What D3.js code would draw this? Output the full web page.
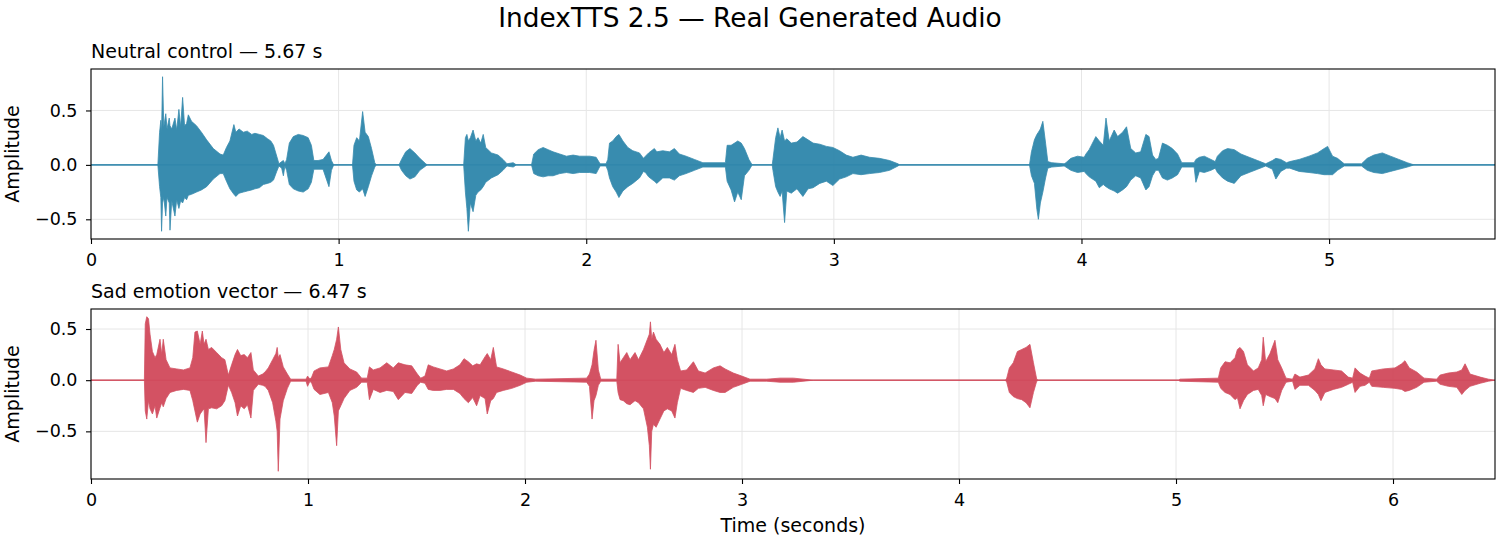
<!DOCTYPE html>
<html>
<head>
<meta charset="utf-8">
<script src="https://cdn.jsdelivr.net/npm/d3@7"></script>
<style>
  body { margin: 0; background: #fff; }
  text { font-family: "DejaVu Sans", sans-serif; fill: #000; }
</style>
</head>
<body>
<div id="chart"></div>
<script>
// peak envelope: [time s, upper peak, lower peak]
const neutralEnvelope = [
  [0.000, 0, 0], [0.270, 0, 0], [0.277, 0.30, -0.20], [0.282, 0.41, -0.30], [0.285, 0.30, -0.61],
  [0.289, 0.81, -0.35], [0.294, 0.35, -0.30], [0.302, 0.47, -0.47], [0.307, 0.33, -0.30], [0.316, 0.43, -0.35],
  [0.319, 0.36, -0.60], [0.326, 0.33, -0.33], [0.339, 0.43, -0.47], [0.346, 0.32, -0.32], [0.355, 0.51, -0.40],
  [0.362, 0.35, -0.33], [0.370, 0.62, -0.35], [0.378, 0.36, -0.30], [0.386, 0.38, -0.32], [0.393, 0.46, -0.28],
  [0.406, 0.40, -0.27], [0.426, 0.36, -0.25], [0.446, 0.30, -0.23], [0.467, 0.23, -0.20], [0.494, 0.15, -0.13],
  [0.521, 0.10, -0.08], [0.534, 0.09, -0.08], [0.547, 0.16, -0.15], [0.561, 0.22, -0.22], [0.577, 0.37, -0.27],
  [0.585, 0.30, -0.29], [0.598, 0.33, -0.26], [0.615, 0.30, -0.25], [0.631, 0.31, -0.24], [0.649, 0.28, -0.23],
  [0.662, 0.29, -0.22], [0.680, 0.28, -0.21], [0.696, 0.27, -0.18], [0.713, 0.24, -0.17], [0.726, 0.22, -0.16],
  [0.737, 0.18, -0.14], [0.750, 0.08, -0.06], [0.759, 0.01, -0.01], [0.770, 0.03, -0.03], [0.777, 0.04, -0.10],
  [0.783, 0.01, -0.01], [0.790, 0.05, -0.05], [0.801, 0.20, -0.18], [0.817, 0.26, -0.22], [0.837, 0.28, -0.24],
  [0.857, 0.27, -0.25], [0.877, 0.25, -0.22], [0.890, 0.18, -0.16], [0.900, 0.04, -0.04], [0.917, 0.04, -0.04],
  [0.937, 0.05, -0.04], [0.961, 0.12, -0.20], [0.971, 0.04, -0.05], [0.980, 0, 0], [1.056, 0, 0],
  [1.062, 0.18, -0.15], [1.073, 0.25, -0.23], [1.084, 0.22, -0.25], [1.097, 0.49, -0.22], [1.107, 0.30, -0.29],
  [1.120, 0.26, -0.20], [1.133, 0.15, -0.10], [1.146, 0.02, -0.02], [1.152, 0, 0], [1.244, 0, 0],
  [1.254, 0.05, -0.05], [1.271, 0.12, -0.10], [1.288, 0.15, -0.13], [1.308, 0.11, -0.11], [1.328, 0.06, -0.05],
  [1.352, 0.01, -0.01], [1.358, 0, 0], [1.505, 0, 0], [1.512, 0.25, -0.25], [1.518, 0.28, -0.40],
  [1.524, 0.22, -0.61], [1.532, 0.25, -0.35], [1.543, 0.32, -0.43], [1.554, 0.22, -0.28], [1.563, 0.25, -0.25],
  [1.574, 0.20, -0.23], [1.584, 0.28, -0.20], [1.594, 0.16, -0.16], [1.617, 0.11, -0.12], [1.644, 0.09, -0.09],
  [1.664, 0.05, -0.05], [1.680, 0.01, -0.01], [1.705, 0.02, -0.02], [1.718, 0, 0], [1.779, 0, 0],
  [1.788, 0.10, -0.08], [1.806, 0.14, -0.10], [1.826, 0.16, -0.11], [1.846, 0.14, -0.10], [1.866, 0.12, -0.10],
  [1.893, 0.10, -0.08], [1.920, 0.08, -0.07], [1.947, 0.09, -0.08], [1.973, 0.08, -0.07], [2.014, 0.08, -0.07],
  [2.040, 0.07, -0.08], [2.056, 0.01, -0.01], [2.080, 0.01, -0.01], [2.087, 0.05, -0.05], [2.094, 0.20, -0.12],
  [2.107, 0.22, -0.20], [2.121, 0.26, -0.25], [2.132, 0.28, -0.30], [2.148, 0.22, -0.24], [2.168, 0.16, -0.20],
  [2.188, 0.13, -0.17], [2.215, 0.11, -0.12], [2.231, 0.06, -0.06], [2.239, 0.08, -0.07], [2.252, 0.11, -0.11],
  [2.275, 0.15, -0.15], [2.285, 0.12, -0.17], [2.309, 0.13, -0.12], [2.336, 0.12, -0.12], [2.356, 0.15, -0.14],
  [2.376, 0.10, -0.10], [2.403, 0.08, -0.08], [2.437, 0.05, -0.05], [2.471, 0.02, -0.02], [2.552, 0.02, -0.02],
  [2.562, 0.02, -0.02], [2.569, 0.18, -0.15], [2.585, 0.18, -0.23], [2.599, 0.20, -0.34], [2.612, 0.22, -0.25],
  [2.626, 0.20, -0.32], [2.639, 0.15, -0.10], [2.657, 0.05, -0.05], [2.670, 0, 0], [2.751, 0, 0],
  [2.754, 0.05, -0.05], [2.765, 0.25, -0.20], [2.774, 0.34, -0.25], [2.783, 0.25, -0.29], [2.791, 0.32, -0.24],
  [2.801, 0.22, -0.53], [2.810, 0.24, -0.24], [2.828, 0.20, -0.26], [2.851, 0.21, -0.22], [2.875, 0.26, -0.29],
  [2.896, 0.23, -0.22], [2.916, 0.20, -0.21], [2.943, 0.19, -0.17], [2.970, 0.17, -0.15], [2.996, 0.16, -0.19],
  [3.023, 0.13, -0.13], [3.050, 0.09, -0.11], [3.077, 0.07, -0.08], [3.110, 0.09, -0.09], [3.144, 0.07, -0.08],
  [3.184, 0.06, -0.07], [3.225, 0.04, -0.05], [3.259, 0.01, -0.01], [3.265, 0, 0], [3.790, 0, 0],
  [3.798, 0.12, -0.10], [3.810, 0.23, -0.17], [3.820, 0.28, -0.41], [3.826, 0.30, -0.50], [3.834, 0.33, -0.35],
  [3.844, 0.40, -0.25], [3.855, 0.20, -0.12], [3.864, 0.03, -0.03], [3.880, 0.02, -0.02], [3.930, 0.01, -0.01],
  [3.937, 0.02, -0.02], [3.957, 0.06, -0.05], [3.984, 0.08, -0.07], [4.011, 0.07, -0.06], [4.018, 0.10, -0.08],
  [4.031, 0.14, -0.11], [4.058, 0.26, -0.15], [4.072, 0.22, -0.21], [4.088, 0.18, -0.18], [4.099, 0.43, -0.20],
  [4.112, 0.22, -0.22], [4.132, 0.32, -0.24], [4.146, 0.26, -0.26], [4.166, 0.30, -0.23], [4.182, 0.35, -0.20],
  [4.199, 0.15, -0.14], [4.219, 0.11, -0.10], [4.239, 0.12, -0.12], [4.260, 0.28, -0.23], [4.273, 0.26, -0.20],
  [4.287, 0.09, -0.10], [4.300, 0.05, -0.05], [4.311, 0.06, -0.05], [4.327, 0.20, -0.12], [4.347, 0.18, -0.14],
  [4.367, 0.15, -0.12], [4.388, 0.10, -0.09], [4.405, 0.02, -0.02], [4.455, 0.02, -0.02], [4.462, 0.05, -0.16],
  [4.476, 0.07, -0.06], [4.496, 0.08, -0.07], [4.523, 0.05, -0.05], [4.540, 0.03, -0.03], [4.549, 0.08, -0.07],
  [4.570, 0.13, -0.12], [4.590, 0.15, -0.15], [4.617, 0.14, -0.17], [4.644, 0.10, -0.10], [4.677, 0.07, -0.07],
  [4.711, 0.04, -0.04], [4.744, 0.01, -0.01], [4.771, 0.04, -0.04], [4.785, 0.06, -0.13], [4.805, 0.05, -0.06],
  [4.828, 0.02, -0.03], [4.841, 0.03, -0.03], [4.879, 0.05, -0.06], [4.919, 0.08, -0.07], [4.953, 0.11, -0.08],
  [4.980, 0.15, -0.09], [4.994, 0.17, -0.09], [5.014, 0.08, -0.09], [5.034, 0.06, -0.05], [5.061, 0.01, -0.01],
  [5.131, 0.01, -0.01], [5.154, 0.06, -0.05], [5.181, 0.09, -0.07], [5.215, 0.11, -0.08], [5.248, 0.08, -0.06],
  [5.282, 0.05, -0.04], [5.316, 0.02, -0.02], [5.343, 0, 0], [5.670, 0, 0]
];

const sadEnvelope = [
  [0.000, 0, 0], [0.246, 0, 0], [0.250, 0.55, -0.30], [0.257, 0.62, -0.38], [0.265, 0.60, -0.20],
  [0.272, 0.45, -0.28], [0.283, 0.28, -0.33], [0.295, 0.22, -0.25], [0.303, 0.25, -0.37], [0.318, 0.40, -0.27],
  [0.326, 0.25, -0.22], [0.333, 0.40, -0.26], [0.346, 0.20, -0.18], [0.364, 0.12, -0.12], [0.395, 0.11, -0.10],
  [0.426, 0.10, -0.09], [0.456, 0.12, -0.10], [0.469, 0.22, -0.20], [0.479, 0.47, -0.30], [0.490, 0.48, -0.41],
  [0.503, 0.35, -0.33], [0.513, 0.48, -0.30], [0.521, 0.35, -0.28], [0.530, 0.40, -0.61], [0.541, 0.30, -0.28],
  [0.556, 0.32, -0.27], [0.579, 0.27, -0.28], [0.602, 0.22, -0.25], [0.617, 0.20, -0.20], [0.633, 0.05, -0.05],
  [0.648, 0.15, -0.12], [0.664, 0.25, -0.22], [0.675, 0.30, -0.35], [0.690, 0.24, -0.25], [0.706, 0.25, -0.28],
  [0.721, 0.22, -0.24], [0.737, 0.27, -0.37], [0.748, 0.10, -0.10], [0.771, 0.04, -0.04], [0.791, 0.06, -0.05],
  [0.802, 0.08, -0.06], [0.817, 0.12, -0.10], [0.837, 0.20, -0.22], [0.852, 0.26, -0.40], [0.858, 0.32, -0.50],
  [0.863, 0.22, -0.89], [0.871, 0.25, -0.38], [0.886, 0.13, -0.20], [0.905, 0.06, -0.08], [0.920, 0.01, -0.01],
  [0.991, 0.01, -0.01], [0.998, 0.04, -0.06], [1.009, 0.01, -0.01], [1.017, 0.03, -0.03], [1.028, 0.09, -0.09],
  [1.055, 0.12, -0.14], [1.094, 0.13, -0.12], [1.112, 0.24, -0.22], [1.121, 0.30, -0.35], [1.132, 0.40, -0.64],
  [1.140, 0.52, -0.30], [1.151, 0.30, -0.25], [1.166, 0.17, -0.18], [1.193, 0.11, -0.10], [1.224, 0.08, -0.07],
  [1.247, 0.02, -0.02], [1.273, 0.02, -0.02], [1.283, 0.13, -0.19], [1.301, 0.10, -0.09], [1.332, 0.12, -0.12],
  [1.363, 0.17, -0.10], [1.393, 0.12, -0.11], [1.416, 0.17, -0.19], [1.447, 0.15, -0.12], [1.478, 0.14, -0.13],
  [1.504, 0.06, -0.05], [1.519, 0.02, -0.02], [1.539, 0.04, -0.03], [1.554, 0.15, -0.09], [1.577, 0.13, -0.10],
  [1.608, 0.11, -0.10], [1.639, 0.09, -0.09], [1.670, 0.11, -0.09], [1.700, 0.15, -0.13], [1.719, 0.21, -0.18],
  [1.739, 0.18, -0.22], [1.759, 0.14, -0.17], [1.777, 0.16, -0.25], [1.793, 0.15, -0.15], [1.816, 0.23, -0.18],
  [1.826, 0.26, -0.33], [1.842, 0.20, -0.20], [1.854, 0.32, -0.18], [1.869, 0.13, -0.12], [1.900, 0.11, -0.10],
  [1.939, 0.08, -0.08], [1.978, 0.05, -0.05], [2.008, 0.02, -0.02], [2.049, 0.01, -0.01], [2.284, 0.02, -0.02],
  [2.297, 0.06, -0.06], [2.309, 0.15, -0.38], [2.318, 0.29, -0.20], [2.327, 0.39, -0.15], [2.338, 0.10, -0.05],
  [2.349, 0.01, -0.01], [2.423, 0.01, -0.01], [2.429, 0.35, -0.12], [2.438, 0.17, -0.19], [2.453, 0.22, -0.20],
  [2.469, 0.27, -0.23], [2.484, 0.20, -0.24], [2.507, 0.27, -0.20], [2.523, 0.20, -0.22], [2.546, 0.30, -0.28],
  [2.564, 0.40, -0.46], [2.573, 0.45, -0.64], [2.578, 0.57, -0.87], [2.584, 0.40, -0.50], [2.592, 0.47, -0.43],
  [2.604, 0.40, -0.46], [2.622, 0.35, -0.38], [2.640, 0.27, -0.30], [2.656, 0.32, -0.28], [2.676, 0.25, -0.30],
  [2.691, 0.35, -0.37], [2.702, 0.20, -0.22], [2.717, 0.09, -0.08], [2.745, 0.10, -0.10], [2.776, 0.18, -0.12],
  [2.799, 0.09, -0.08], [2.830, 0.07, -0.07], [2.868, 0.12, -0.10], [2.899, 0.14, -0.12], [2.922, 0.11, -0.12],
  [2.960, 0.07, -0.07], [2.999, 0.04, -0.04], [3.037, 0.01, -0.01], [3.114, 0.01, -0.01], [3.175, 0.02, -0.02],
  [3.237, 0.02, -0.02], [3.329, 0, 0], [4.214, 0, 0], [4.220, 0.02, -0.02], [4.232, 0.12, -0.12],
  [4.250, 0.17, -0.16], [4.269, 0.28, -0.18], [4.289, 0.30, -0.19], [4.309, 0.32, -0.22], [4.327, 0.35, -0.27],
  [4.343, 0.17, -0.12], [4.358, 0.01, -0.01], [4.366, 0, 0], [5.012, 0, 0], [5.018, 0.01, -0.01],
  [5.195, 0.02, -0.02], [5.206, 0.12, -0.08], [5.226, 0.18, -0.12], [5.249, 0.17, -0.14], [5.272, 0.22, -0.19],
  [5.283, 0.30, -0.17], [5.295, 0.32, -0.28], [5.311, 0.28, -0.20], [5.329, 0.15, -0.14], [5.357, 0.09, -0.10],
  [5.379, 0.12, -0.09], [5.395, 0.20, -0.15], [5.402, 0.42, -0.25], [5.413, 0.18, -0.14], [5.433, 0.26, -0.16],
  [5.456, 0.39, -0.18], [5.469, 0.20, -0.22], [5.487, 0.12, -0.10], [5.507, 0.02, -0.02], [5.537, 0.01, -0.01],
  [5.548, 0.06, -0.09], [5.571, 0.03, -0.05], [5.610, 0.05, -0.05], [5.640, 0.11, -0.10], [5.656, 0.21, -0.14],
  [5.668, 0.15, -0.20], [5.686, 0.11, -0.12], [5.725, 0.10, -0.09], [5.763, 0.09, -0.07], [5.794, 0.03, -0.04],
  [5.814, 0.02, -0.02], [5.825, 0.12, -0.12], [5.848, 0.07, -0.06], [5.871, 0.04, -0.05], [5.891, 0.02, -0.02],
  [5.902, 0.09, -0.06], [5.955, 0.11, -0.07], [6.009, 0.12, -0.08], [6.040, 0.16, -0.09], [6.055, 0.19, -0.11],
  [6.075, 0.12, -0.10], [6.109, 0.08, -0.07], [6.143, 0.02, -0.02], [6.201, 0.01, -0.01], [6.217, 0.05, -0.04],
  [6.255, 0.07, -0.06], [6.294, 0.08, -0.07], [6.317, 0.10, -0.14], [6.332, 0.16, -0.10], [6.355, 0.06, -0.06],
  [6.402, 0.03, -0.03], [6.440, 0.01, -0.01], [6.470, 0, 0]
];

const panelTitles = ["Neutral control — 5.67 s", "Sad emotion vector — 6.47 s"];
const durations = [5.67, 6.47];
const xTicksNeutral = [0, 1, 2, 3, 4, 5];
const xTicksSad = [0, 1, 2, 3, 4, 5, 6];
const yTicks = [-0.5, 0.0, 0.5];
const waveColors = ["#2E86AB", "#D1495B"];

const width = 1500, height = 545;
const left = 91, right = 1495, panelH = 170;

const svg = d3.select("#chart").append("svg")
  .attr("width", width)
  .attr("height", height);

svg.append("text")
  .attr("x", 750)
  .attr("y", 26.5)
  .attr("text-anchor", "middle")
  .style("font-size", "26.4px")
  .text("IndexTTS 2.5 — Real Generated Audio");

function drawPanel(env, duration, xticks, title, color, top, idx) {
  const x = d3.scaleLinear().domain([0, duration]).range([left, right]);
  const lo = d3.min(env, d => d[2]), hi = d3.max(env, d => d[1]);
  const pad = (hi - lo) * 0.05;
  const y = d3.scaleLinear().domain([lo - pad, hi + pad]).range([top + panelH, top]);

  const g = svg.append("g");

  g.append("clipPath").attr("id", "clip" + idx)
    .append("rect")
    .attr("x", left).attr("y", top)
    .attr("width", right - left).attr("height", panelH);

  // grid
  g.selectAll(".vgrid").data(xticks).join("line")
    .attr("x1", d => x(d)).attr("x2", d => x(d))
    .attr("y1", top).attr("y2", top + panelH)
    .attr("stroke", "#e6e6e6").attr("stroke-width", 1);
  g.selectAll(".hgrid").data(yTicks).join("line")
    .attr("x1", left).attr("x2", right)
    .attr("y1", d => y(d)).attr("y2", d => y(d))
    .attr("stroke", "#e6e6e6").attr("stroke-width", 1);

  const wave = g.append("g").attr("clip-path", "url(#clip" + idx + ")");

  wave.append("line")
    .attr("x1", x(0)).attr("x2", x(duration))
    .attr("y1", y(0)).attr("y2", y(0))
    .attr("stroke", color).attr("stroke-width", 1.1).attr("opacity", 0.85);

  const area = d3.area()
    .x(d => x(d[0]))
    .y0(d => y(d[2]))
    .y1(d => y(d[1]));

  wave.append("path")
    .datum(env)
    .attr("d", area)
    .attr("fill", color)
    .attr("stroke", color)
    .attr("stroke-width", 0.8)
    .attr("opacity", 0.95);

  // axes
  const xAxis = g.append("g")
    .attr("transform", `translate(0,${top + panelH})`)
    .call(d3.axisBottom(x).tickValues(xticks).tickFormat(d3.format("d"))
      .tickSize(5).tickSizeOuter(0).tickPadding(10));
  const yAxis = g.append("g")
    .attr("transform", `translate(${left},0)`)
    .call(d3.axisLeft(y).tickValues(yTicks).tickFormat(d3.format(".1f"))
      .tickSize(5).tickSizeOuter(0).tickPadding(8.5));

  [xAxis, yAxis].forEach(a => {
    a.select(".domain").remove();
    a.selectAll("line").attr("stroke", "#000").attr("stroke-width", 1.1);
    a.selectAll("text")
      .style("font-size", "17.5px")
      .style("font-family", "DejaVu Sans, sans-serif")
      .attr("fill", "#000");
  });

  g.append("rect")
    .attr("x", left).attr("y", top)
    .attr("width", right - left).attr("height", panelH)
    .attr("fill", "none").attr("stroke", "#000").attr("stroke-width", 1.1);

  g.append("text")
    .attr("x", left)
    .attr("y", top - 11)
    .style("font-size", "19px")
    .text(title);

  g.append("text")
    .attr("transform", `translate(19,${top + panelH / 2}) rotate(-90)`)
    .attr("text-anchor", "middle")
    .style("font-size", "19px")
    .text("Amplitude");
}

drawPanel(neutralEnvelope, durations[0], xTicksNeutral, panelTitles[0], waveColors[0], 69, 0);
drawPanel(sadEnvelope, durations[1], xTicksSad, panelTitles[1], waveColors[1], 309, 1);

svg.append("text")
  .attr("x", (left + right) / 2)
  .attr("y", 532)
  .attr("text-anchor", "middle")
  .style("font-size", "19px")
  .text("Time (seconds)");
</script>
</body>
</html>
